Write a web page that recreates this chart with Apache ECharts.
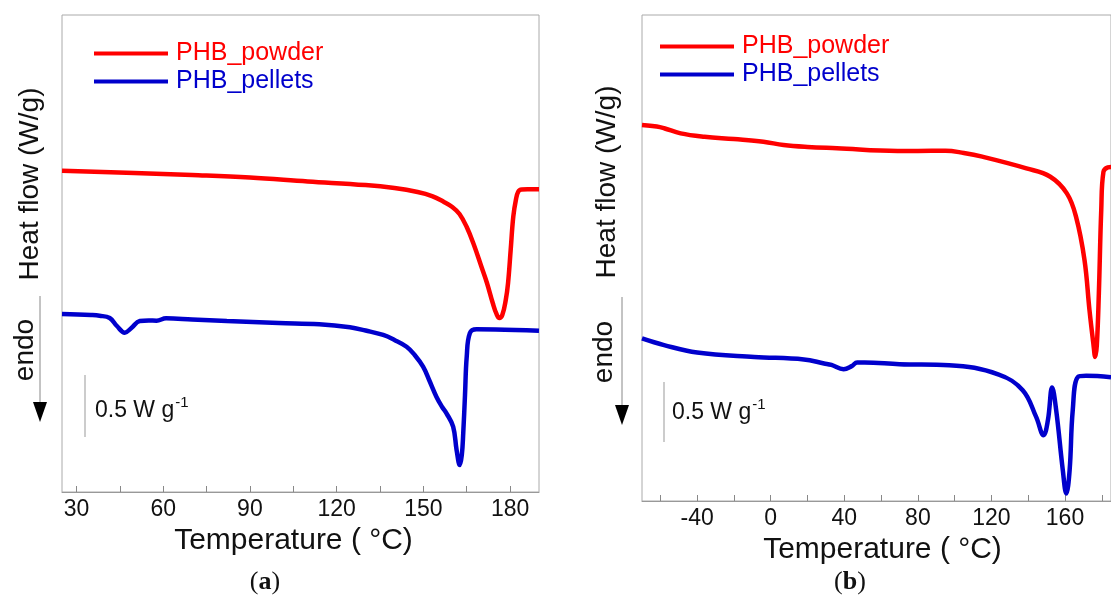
<!DOCTYPE html>
<html>
<head>
<meta charset="utf-8">
<script src="https://cdn.jsdelivr.net/npm/echarts@6/dist/echarts.min.js"></script>
<style>
  html, body { margin: 0; padding: 0; background: #fff; }
  #main { width: 1111px; height: 599px; }
</style>
</head>
<body>
<div id="main"></div>
<script>
// panel (a): temperature (°C) and heat flow (W/g, shifted)
var aPowderT = [25, 50, 70, 90, 110, 130, 140, 148, 153, 157, 160, 162.5, 165, 167.5, 170, 172, 174, 175.3, 176.3, 177.3, 178.5, 179.3, 180.2, 181.1, 182, 182.8, 184, 186, 190];
var aPowderQ = [2.694, 2.675, 2.658, 2.637, 2.604, 2.574, 2.549, 2.516, 2.482, 2.434, 2.390, 2.331, 2.222, 2.071, 1.895, 1.753, 1.585, 1.493, 1.459, 1.484, 1.610, 1.753, 2.029, 2.309, 2.449, 2.518, 2.537, 2.538, 2.538];
var aPelletsT = [25, 35, 38, 41.5, 44, 46.7, 49, 51.9, 55, 57.7, 61, 70, 82, 100, 114, 124.6, 130, 136.1, 140, 144.2, 147, 149.9, 152, 154.5, 156.5, 158, 160.3, 161.5, 162.6, 163.3, 163.8, 164.4, 165, 166.1, 168.4, 175, 190];
var aPelletsQ = [1.493, 1.484, 1.478, 1.459, 1.392, 1.336, 1.375, 1.434, 1.438, 1.437, 1.457, 1.447, 1.434, 1.417, 1.406, 1.381, 1.354, 1.317, 1.275, 1.218, 1.149, 1.051, 0.939, 0.799, 0.713, 0.660, 0.548, 0.352, 0.226, 0.310, 0.495, 0.813, 1.135, 1.333, 1.364, 1.363, 1.353];

// panel (b)
var bPowderT = [-70, -62, -58, -49, -36, -20, -4, 7, 20, 36, 69, 80, 95, 105, 115, 139, 152, 161, 166, 170.6, 173.3, 175.5, 176.4, 177.3, 178.4, 179.7, 180.9, 183.3, 185];
var bPowderQ = [3.095, 3.082, 3.068, 3.026, 2.998, 2.979, 2.957, 2.930, 2.914, 2.903, 2.881, 2.881, 2.883, 2.864, 2.834, 2.738, 2.669, 2.532, 2.339, 1.983, 1.571, 1.283, 1.186, 1.283, 1.711, 2.395, 2.710, 2.746, 2.749];
var bPelletsT = [-70, -58, -40, -9, 18, 29, 33, 39.6, 44, 47, 51, 70, 97, 124, 137, 144.3, 148.3, 150.7, 153, 155.2, 158.8, 160.7, 162.5, 164.2, 167, 171.5, 185];
var bPelletsQ = [1.338, 1.283, 1.222, 1.186, 1.165, 1.132, 1.120, 1.085, 1.110, 1.140, 1.140, 1.126, 1.118, 1.041, 0.912, 0.692, 0.541, 0.665, 0.934, 0.747, 0.253, 0.061, 0.253, 0.747, 1.021, 1.030, 1.019];

// ticks
var aTicks = [30, 45, 60, 75, 90, 105, 120, 135, 150, 165, 180];
var aLabels = [30, 60, 90, 120, 150, 180];
var bTicks = [-60, -40, -20, 0, 20, 40, 60, 80, 100, 120, 140, 160, 180];
var bLabels = [-40, 0, 40, 80, 120, 160];

var seriesNames = ['PHB_powder', 'PHB_pellets'];
var red = '#ff0000';
var blue = '#0000cc';
var font = 'Liberation Sans';

function zip(t, q) {
    var out = [];
    for (var i = 0; i < t.length; i++) out.push([t[i], q[i]]);
    return out;
}

function xAxisFor(idx, min, max, ticks, labels, gap, namePad) {
    return {
        gridIndex: idx,
        type: 'value',
        min: min,
        max: max,
        splitLine: { show: false },
        axisLine: { lineStyle: { color: '#999', width: 1 } },
        axisTick: { inside: true, length: 6, customValues: ticks, lineStyle: { color: '#888' } },
        axisLabel: { customValues: labels, fontSize: 23, color: '#111', margin: 6, fontFamily: font },
        name: 'Temperature ( °C)',
        nameLocation: 'middle',
        nameGap: gap,
        nameTextStyle: { fontSize: 30, color: '#111', fontFamily: font, padding: namePad }
    };
}

function yAxisFor(idx) {
    return { gridIndex: idx, type: 'value', min: 0, max: 4, show: false };
}

function lineSeries(name, idx, data, color) {
    return {
        name: name,
        type: 'line',
        xAxisIndex: idx,
        yAxisIndex: idx,
        data: data,
        showSymbol: false,
        symbol: 'none',
        smooth: 0.4,
        lineStyle: { color: color, width: 4.5 },
        itemStyle: { color: color }
    };
}

function legendFor(left, top) {
    return {
        left: left,
        top: top,
        padding: 0,
        orient: 'vertical',
        icon: 'rect',
        itemWidth: 74,
        itemHeight: 4,
        itemGap: 3,
        textStyle: { fontSize: 25, fontFamily: font, padding: [0, 0, 0, 3] },
        data: [
            { name: seriesNames[0], textStyle: { color: red } },
            { name: seriesNames[1], textStyle: { color: blue } }
        ]
    };
}

function sideText(x, y, text) {
    return {
        type: 'text',
        x: x, y: y,
        rotation: Math.PI / 2,
        style: { text: text, fontSize: 28, fontFamily: font, fill: '#111', align: 'center', verticalAlign: 'middle' }
    };
}

function endoArrow(x, y0, y1) {
    return [
        { type: 'line', shape: { x1: x, y1: y0, x2: x, y2: y1 }, style: { stroke: '#888', lineWidth: 1 } },
        { type: 'polygon', shape: { points: [[x - 7, y1 - 2], [x + 7, y1 - 2], [x, y1 + 18]] }, style: { fill: '#000' } }
    ];
}

function scaleBar(x, y0, y1, tx, ty) {
    return [
        { type: 'line', shape: { x1: x, y1: y0, x2: x, y2: y1 }, style: { stroke: '#999', lineWidth: 1 } },
        {
            type: 'text', x: tx, y: ty,
            style: {
                text: '0.5 W g{sup|-1}',
                fontSize: 23, fontFamily: font, fill: '#111', verticalAlign: 'middle',
                rich: { sup: { fontSize: 15, fontFamily: font, fill: '#111', padding: [0, 0, 16, 1] } }
            }
        }
    ];
}

function caption(x, y, letter) {
    return {
        type: 'text', x: x, y: y,
        style: {
            text: '(' + '{b|' + letter + '})',
            fontSize: 26, fontFamily: 'Liberation Serif', fill: '#111', align: 'center', verticalAlign: 'middle',
            rich: { b: { fontSize: 26, fontWeight: 'bold', fontFamily: 'Liberation Serif', fill: '#111' } }
        }
    };
}

var myChart = echarts.init(document.getElementById('main'));
var option = {
    animation: false,
    backgroundColor: '#fff',
    grid: [
        { left: 62, top: 15, width: 477, height: 477, show: true, borderColor: '#aaa', borderWidth: 1 },
        { left: 642, top: 15, width: 469, height: 486, show: true, borderColor: '#aaa', borderWidth: 1 }
    ],
    xAxis: [
        xAxisFor(0, 25, 190, aTicks, aLabels, 32, [0, 14, 0, 0]),
        xAxisFor(1, -70, 185, bTicks, bLabels, 26, [0, 0, 0, 12])
    ],
    yAxis: [yAxisFor(0), yAxisFor(1)],
    legend: [legendFor(94, 41), legendFor(660, 34)],
    series: [
        lineSeries(seriesNames[0], 0, zip(aPowderT, aPowderQ), red),
        lineSeries(seriesNames[1], 0, zip(aPelletsT, aPelletsQ), blue),
        lineSeries(seriesNames[0], 1, zip(bPowderT, bPowderQ), red),
        lineSeries(seriesNames[1], 1, zip(bPelletsT, bPelletsQ), blue)
    ],
    graphic: [
        sideText(30, 184, 'Heat flow (W/g)'),
        sideText(25, 350, 'endo'),
        sideText(607, 182, 'Heat flow (W/g)'),
        sideText(604, 352, 'endo'),
        caption(265, 582, 'a'),
        caption(850, 582, 'b')
    ].concat(endoArrow(40, 296, 404))
     .concat(endoArrow(622, 297, 407))
     .concat(scaleBar(85, 375, 437, 95, 411))
     .concat(scaleBar(664, 382, 442, 672, 413))
};

myChart.setOption(option);
window.addEventListener('resize', function () {
    myChart.resize();
});
</script>
</body>
</html>
